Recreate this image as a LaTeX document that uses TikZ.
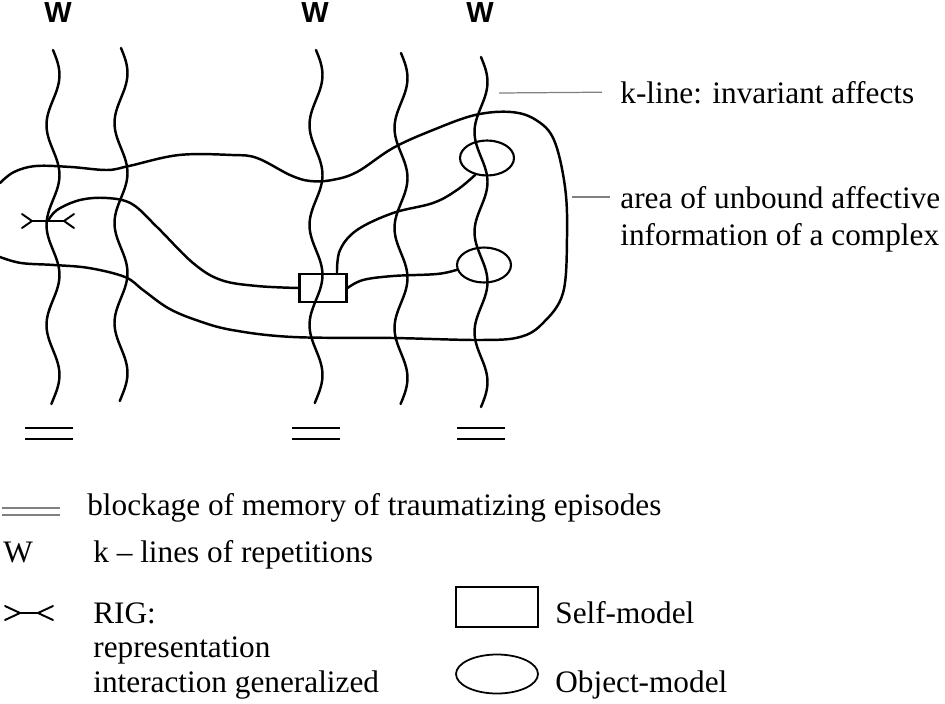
\documentclass[tikz,border=0pt]{standalone}
\usepackage{fontspec}
\setmainfont{Liberation Serif}
\newfontfamily\wfont{Liberation Sans}
\usetikzlibrary{shapes.geometric}

\tikzset{
  curve/.style={line width=1.4pt, line cap=round, line join=round},
  blockage/.style={line width=1.3pt},
  legendblockage/.style={gray, line width=1pt},
  selfmodel/.style={draw, rectangle, line width=1.2pt, minimum width=0.94cm, minimum height=0.56cm, inner sep=0pt},
  objmodel/.style={draw, ellipse, line width=1.2pt, minimum width=1.08cm, minimum height=0.70cm, inner sep=0pt},
  leader/.style={gray, line width=0.7pt},
  legendtext/.style={anchor=base west, inner sep=0pt, font=\fontsize{17.8}{19.8}\selectfont},
  wlabel/.style={inner sep=0pt, font=\wfont\bfseries\fontsize{16.5}{18}\selectfont},
  pics/rig/.style args={#1/#2}{code={
    \draw[curve, line width=1.1pt] (-#1-#2,-7) -- (-#1,0) -- (-#1-#2,7)
      (-#1,0) -- (#1,0)
      (#1+#2,-7) -- (#1,0) -- (#1+#2,7);
  }},
}

\begin{document}
\begin{tikzpicture}[x=0.02cm, y=-0.02cm]
\useasboundingbox (0,0) rectangle (945,703);

% k-lines with W marks and blockages
\foreach \name/\x/\top/\bot in {k1/53/50/404, k2/121/48/401, k3/316/50/403, k4/401/53/404, k5/481/57/407}{
  \coordinate (\name t) at (\x,\top);
  \coordinate (\name b) at (\x,\bot);
  \draw[curve] plot[domain=\top:\bot, samples=60, smooth, variable=\t]
    ({\x+6.5*sin(3.6*(\t-\top))}, \t);
}
\node[wlabel] (w1) at (58,13) {W};
\node[wlabel] (w3) at (315,13) {W};
\node[wlabel] (w5) at (480,13) {W};
\foreach \x in {49,316,481}{
  \draw[blockage] (\x-24,428) -- (\x+24,428) (\x-24,439) -- (\x+24,439);
}

% area of the complex
\draw[curve] plot[smooth, tension=0.6] coordinates {
  (0,183) (14,172) (36,166) (71,167) (107,170) (129,166) (179,155) (232,155)
  (257,158) (290,175) (310,181) (332,180) (357,172) (393,148) (433,130)
  (475,115) (511,112) (536,120) (554,140) (565,187) (567,237) (563,293)
  (543,323) (520,337) (480,340) (393,338) (293,337) (232,330) (196,320)
  (168,308) (143,290) (125,277) (89,268) (54,265) (21,263) (0,257)};

% models
\coordinate (rig) at (48,221);
\pic at (rig) {rig=16/10};
\node[selfmodel] (self) at (323,288) {};
\node[objmodel] (obj1) at (487,158) {};
\node[objmodel] (obj2) at (484,265) {};

\draw[curve] plot[smooth, tension=0.6] coordinates {(rig) (57,210) (80,200) (107,198)
  (132,204) (157,227) (193,263) (221,280) (257,286) (self.west)};
\draw[curve] plot[smooth, tension=0.6] coordinates {([xshift=0.28cm]self.north) (340,250)
  (357,230) (393,213) (433,203) (457,190) (obj1.235)};
\draw[curve] plot[smooth, tension=0.6] coordinates {(self.east) (363,280) (393,276)
  (437,274) (obj2.190)};

% labels on the right
\coordinate (klpt) at (499,93);
\node[legendtext] (klabel) at (620,103) {k-line: invariant affects};
\draw[leader] (klpt) -- ([xshift=-0.36cm]klabel.west);
\coordinate (areapt) at (572,197);
\node[legendtext, align=left, font=\fontsize{17.8}{21}\selectfont] (alabel) at (620,245)
  {area of unbound affective\\information of a complex};
\coordinate (aend) at ([xshift=-0.2cm]alabel.west);
\draw[leader] (areapt) -- (areapt -| aend);

% legend
\draw[legendblockage] (2,508) -- (60,508) (2,515) -- (60,515);
\node[legendtext] (tblock) at (87,515) {blockage of memory of traumatizing episodes};
\node[legendtext] (wsym) at (3,562) {W};
\node[legendtext] (tkline) at (93,562) {k – lines of repetitions};
\pic at (29,613) {rig=9/15};
\node[legendtext, align=left, font=\fontsize{17.8}{19.5}\selectfont] (trig) at (93,692)
  {RIG:\\representation\\interaction generalized};
\node[draw, rectangle, line width=1.2pt, minimum width=1.64cm, minimum height=0.8cm] (selflegend) at (497,607) {};
\node[legendtext] (tself) at (555,623) {Self-model};
\node[draw, ellipse, line width=1pt, minimum width=1.64cm, minimum height=0.78cm, inner sep=0pt] (objlegend) at (497,674) {};
\node[legendtext] (tobj) at (555,692) {Object-model};
\end{tikzpicture}
\end{document}
